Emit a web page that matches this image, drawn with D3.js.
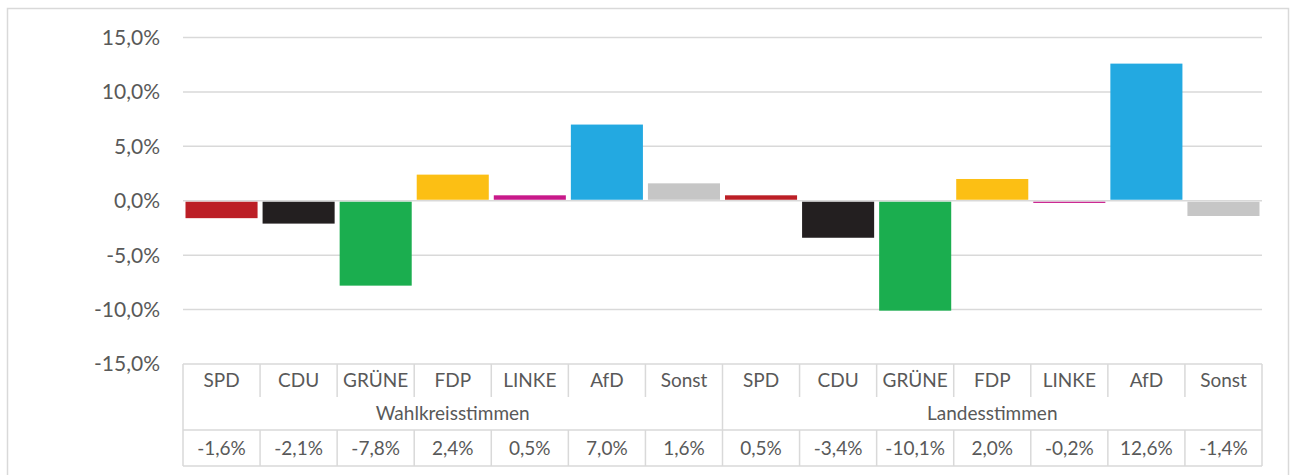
<!DOCTYPE html>
<html>
<head>
<meta charset="utf-8">
<script src="https://cdn.jsdelivr.net/npm/d3@7"></script>
<style>
  body { margin: 0; background: #fff; }
  svg text { font-family: Lato, "Open Sans", sans-serif; fill: #595959; }
</style>
</head>
<body>
<svg id="drawing_region"></svg>
<script>
// data
const parties = ['SPD', 'CDU', 'GRÜNE', 'FDP', 'LINKE', 'AfD', 'Sonst'];
const partyColors = ['#BC1F26', '#231F20', '#1BAE4F', '#FCBF14', '#C8198A', '#23A9E1', '#C6C6C6'];
const groups = ['Wahlkreisstimmen', 'Landesstimmen'];
const wahlkreisValues = [-1.6, -2.1, -7.8, 2.4, 0.5, 7.0, 1.6];
const landesValues = [0.5, -3.4, -10.1, 2.0, -0.2, 12.6, -1.4];
const yTicks = [15, 10, 5, 0, -5, -10, -15];

const data = [];
groups.forEach((g, gi) => {
    const vals = gi === 0 ? wahlkreisValues : landesValues;
    parties.forEach((p, pi) => {
        data.push({ key: g + '|' + p, group: g, party: p, value: vals[pi], color: partyColors[pi] });
    });
});

const fmt = v => d3.format('.1f')(v).replace('.', ',').replace('−', '-') + '%';

const config = {
    width: 1292,
    height: 475,
    left: 183,
    right: 1262,
    top: 37.5,
    bottom: 364
};

const svg = d3.select('#drawing_region')
    .attr('width', config.width)
    .attr('height', config.height);

// outer frame
svg.append('rect')
    .attr('x', 7.5).attr('y', 8.5)
    .attr('width', 1281).attr('height', 480)
    .attr('fill', 'none')
    .attr('stroke', '#d9d9d9')
    .attr('stroke-width', 1.5);

const x = d3.scaleBand()
    .domain(data.map(d => d.key))
    .range([config.left, config.right])
    .paddingInner(0.065)
    .paddingOuter(0.0325);

const y = d3.scaleLinear()
    .domain([-15, 15])
    .range([config.bottom, config.top]);

// gridlines
svg.append('g')
    .selectAll('line')
    .data(yTicks.filter(t => t !== -15))
    .enter()
    .append('line')
    .attr('x1', config.left).attr('x2', config.right)
    .attr('y1', d => y(d)).attr('y2', d => y(d))
    .attr('stroke', '#d9d9d9')
    .attr('stroke-width', 1.5);

// y labels
svg.append('g')
    .selectAll('text')
    .data(yTicks)
    .enter()
    .append('text')
    .attr('x', 160)
    .attr('y', d => y(d))
    .attr('dy', '0.35em')
    .attr('text-anchor', 'end')
    .style('font-size', '21px')
    .text(d => fmt(d));

// bars
svg.append('g')
    .selectAll('rect')
    .data(data)
    .enter()
    .append('rect')
    .attr('x', d => x(d.key))
    .attr('width', x.bandwidth())
    .attr('y', d => d.value >= 0 ? y(d.value) : y(0) + 1)
    .attr('height', d => Math.max(0, Math.abs(y(d.value) - y(0)) - 1))
    .attr('fill', d => d.color);

// data table
const step = x.step();
const colX = i => config.left + i * step;
const row1 = config.bottom, row2 = 397, row3 = 430, row4 = 466;
const table = svg.append('g')
    .attr('stroke', '#d9d9d9')
    .attr('stroke-width', 1.5);

// horizontal lines
[row1, row3, row4].forEach(r => {
    table.append('line')
        .attr('x1', config.left).attr('x2', config.right)
        .attr('y1', r).attr('y2', r);
});
// vertical lines in category row and value row
d3.range(data.length + 1).forEach(i => {
    table.append('line')
        .attr('x1', colX(i)).attr('x2', colX(i))
        .attr('y1', row1).attr('y2', row2);
    table.append('line')
        .attr('x1', colX(i)).attr('x2', colX(i))
        .attr('y1', row3).attr('y2', row4);
});
// group row lines
[0, parties.length, data.length].forEach(i => {
    table.append('line')
        .attr('x1', colX(i)).attr('x2', colX(i))
        .attr('y1', row2).attr('y2', row3);
});

const tableText = svg.append('g').style('font-size', '19px');

tableText.selectAll('.cat')
    .data(data)
    .enter()
    .append('text')
    .attr('class', 'cat')
    .attr('x', d => x(d.key) + x.bandwidth() / 2)
    .attr('y', (row1 + row2) / 2)
    .attr('dy', '0.35em')
    .attr('text-anchor', 'middle')
    .text(d => d.party);

tableText.selectAll('.grp')
    .data(groups)
    .enter()
    .append('text')
    .attr('class', 'grp')
    .attr('x', (d, i) => colX(i * parties.length) + step * parties.length / 2)
    .attr('y', (row2 + row3) / 2)
    .attr('dy', '0.35em')
    .attr('text-anchor', 'middle')
    .text(d => d);

tableText.selectAll('.val')
    .data(data)
    .enter()
    .append('text')
    .attr('class', 'val')
    .attr('x', d => x(d.key) + x.bandwidth() / 2)
    .attr('y', (row3 + row4) / 2)
    .attr('dy', '0.35em')
    .attr('text-anchor', 'middle')
    .text(d => fmt(d.value));
</script>
</body>
</html>
